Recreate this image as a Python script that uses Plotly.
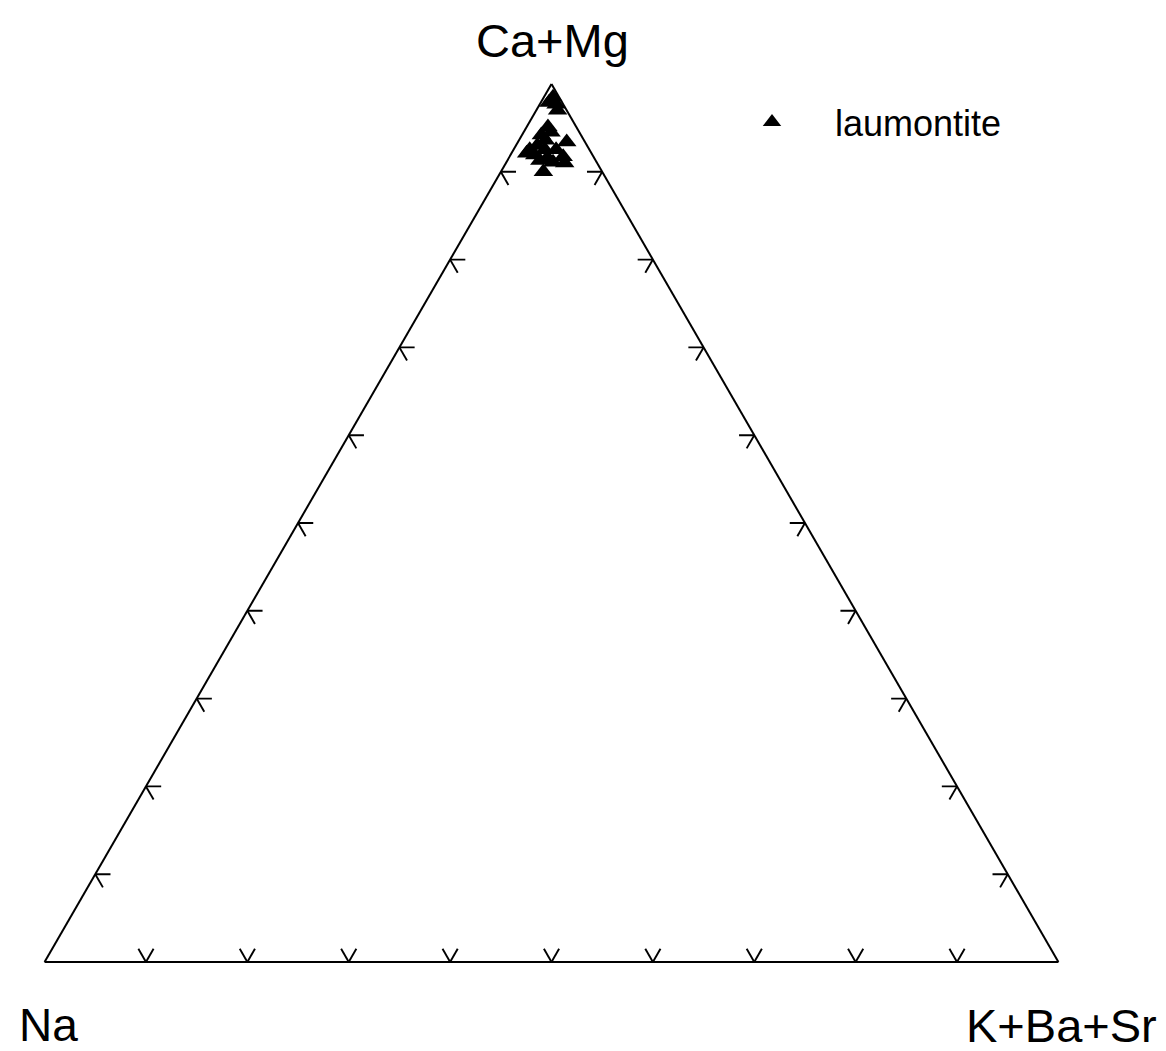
import plotly.graph_objects as go

# Data (percent): Ca+Mg (a), Na (b), K+Ba+Sr (c)
ca_mg = [98.5, 97.9, 97.7, 97.0, 95.1, 94.5, 94.2, 93.6, 93.0, 92.5, 92.1,
         91.9, 91.3, 91.6, 91.1, 93.4, 91.7, 91.0, 90.0, 92.5, 92.5]
na = [0.6, 1.3, 0.7, 0.9, 2.8, 2.8, 3.9, 3.8, 4.9, 5.9, 6.4,
      5.7, 5.5, 4.6, 4.3, 1.8, 3.0, 3.2, 5.8, 4.4, 3.3]
k_ba_sr = [round(100 - a - b, 1) for a, b in zip(ca_mg, na)]

tick_values = [10, 20, 30, 40, 50, 60, 70, 80, 90]
tick_len = 1.5  # percent

FONT = "Liberation Sans, Arial, Helvetica, sans-serif"

# build tick segments (two arms at each tick on each edge)
ta, tb, tc = [], [], []
def seg(p, q):
    ta.extend([p[0], q[0], None]); tb.extend([p[1], q[1], None]); tc.extend([p[2], q[2], None])

L = tick_len
for t in tick_values:
    # left edge (c = 0)
    p = (t, 100 - t, 0)
    seg(p, (t, 100 - t - L, L))
    seg(p, (t - L, 100 - t, L))
    # bottom edge (a = 0)
    p = (0, 100 - t, t)
    seg(p, (L, 100 - t, t - L))
    seg(p, (L, 100 - t - L, t))
    # right edge (b = 0)
    p = (t, 0, 100 - t)
    seg(p, (t, L, 100 - t - L))
    seg(p, (t - L, L, 100 - t))

fig = go.Figure()
fig.add_trace(go.Scatterternary(
    a=ta, b=tb, c=tc, mode="lines",
    line=dict(color="black", width=1.9),
    showlegend=False, hoverinfo="skip", cliponaxis=False,
))
fig.add_trace(go.Scatterternary(
    a=ca_mg, b=na, c=k_ba_sr, mode="markers", name="laumontite",
    marker=dict(symbol="triangle-up", size=17, color="black"),
    cliponaxis=False,
))

axis_common = dict(showticklabels=False, ticks="", showgrid=False,
                   showline=True, linecolor="black", linewidth=2,
                   title=dict(text=""), min=0)

fig.update_layout(
    width=1166, height=1051,
    margin=dict(l=0, r=0, t=0, b=0),
    paper_bgcolor="white",
    ternary=dict(
        sum=100,
        domain=dict(x=[44 / 1166, 1059 / 1166], y=[89 / 1051, 967 / 1051]),
        bgcolor="white",
        aaxis=axis_common, baxis=axis_common, caxis=axis_common,
    ),
    showlegend=True,
    legend=dict(x=709 / 1166, y=1 - 122 / 1051, xanchor="left", yanchor="middle",
                font=dict(family=FONT, size=36, color="black"),
                bgcolor="rgba(0,0,0,0)", itemwidth=116),
    font=dict(family=FONT, color="black"),
    annotations=[
        dict(text="Ca+Mg", x=552 / 1166, y=1 - 40 / 1051, xref="paper", yref="paper",
             showarrow=False, font=dict(size=47, family=FONT, color="black"),
             xanchor="center", yanchor="middle"),
        dict(text="Na", x=48 / 1166, y=1 - 1025 / 1051, xref="paper", yref="paper",
             showarrow=False, font=dict(size=46, family=FONT, color="black"),
             xanchor="center", yanchor="middle"),
        dict(text="K+Ba+Sr", x=1061 / 1166, y=1 - 1025 / 1051, xref="paper", yref="paper",
             showarrow=False, font=dict(size=47, family=FONT, color="black"),
             xanchor="center", yanchor="middle"),
    ],
)

fig.write_html("out.html")
